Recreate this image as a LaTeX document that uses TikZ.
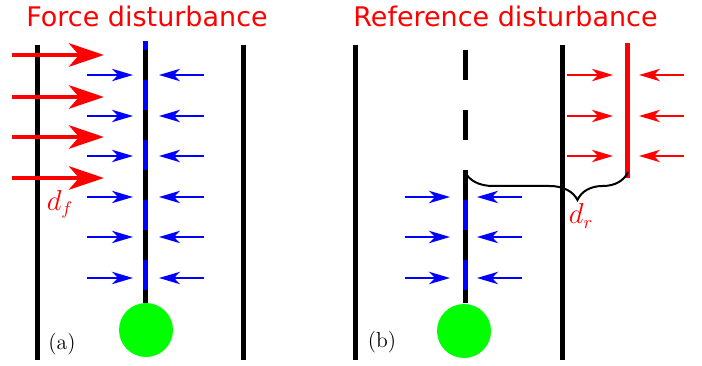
\documentclass[tikz,border=0pt]{standalone}
\usepackage{fontspec}
\newfontfamily\titlefont{DejaVu Sans}
\usetikzlibrary{arrows.meta,decorations.pathreplacing}

\begin{document}
\begin{tikzpicture}[x=0.6pt,y=-0.6pt,
  wall/.style={line width=3pt},
  force/.style={draw=#1,line width=1.6pt,-{Stealth[length=12.6pt,width=7.4pt,inset=3.6pt]}},
  bigforce/.style={draw=red,line width=2.8pt,-{Stealth[length=21pt,width=14pt,inset=6pt]}},
  mass/.style={circle,fill=green,minimum size=32.4pt,inner sep=0pt},
  title/.style={text=red,font=\titlefont\fontsize{16.2}{19}\selectfont,inner sep=0pt,anchor=base west},
  lbl/.style={font=\fontsize{13}{15}\selectfont,inner sep=0pt},
  sym/.style={text=red,font=\fontsize{16}{19}\selectfont,inner sep=0pt}]
\useasboundingbox (0,0) rectangle (702,366);
\node[title] (tA) at (26,27) {Force disturbance};
\node[title] (tB) at (353,27) {Reference disturbance};
\foreach \x in {37,243,355,562} \draw[wall] (\x,45) -- (\x,360);
\coordinate (topA) at (145,41);
\coordinate (endA) at (145,303);
\draw[blue,line width=3pt] (topA) -- (endA);
\draw[line width=3pt,dash pattern=on 18pt off 18pt] (145,50) -- (endA);
\coordinate (midB) at (465,170);
\coordinate (endB) at (465,303);
\draw[blue,line width=3pt] (midB) -- (endB);
\draw[line width=3pt,dash pattern=on 18pt off 18pt] (465,50) -- (endB);
\coordinate (topR) at (627,43);
\coordinate (endR) at (627,178);
\draw[red,line width=3pt] (topR) -- (endR);
\foreach \y in {55,97,137,178} \draw[bigforce] (12,\y) -- (104,\y);
\foreach \y in {75,116,156,197,237,278} {
  \draw[force=blue] (87,\y) -- (133,\y);
  \draw[force=blue] (204,\y) -- (159,\y);
}
\foreach \y in {197,237,278} {
  \draw[force=blue] (405,\y) -- (450,\y);
  \draw[force=blue] (522,\y) -- (477,\y);
}
\foreach \y in {75,116,156} {
  \draw[force=red] (567,\y) -- (613,\y);
  \draw[force=red] (684,\y) -- (639,\y);
}
\coordinate (bl) at (465,172);
\coordinate (br) at (628,172);
\draw[line width=1.2pt,decorate,decoration={brace,mirror,amplitude=16.8pt,aspect=0.69}] (bl) -- (br);
\node[mass] (mA) at (146,330) {};
\node[mass] (mB) at (464,331) {};
\node[sym] (df) at (60,204) {$d_f$};
\node[sym] (dr) at (581,216) {$d_r$};
\node[lbl] (la) at (62,344) {(a)};
\node[lbl] (lb) at (382,342) {(b)};
\end{tikzpicture}
\end{document}
